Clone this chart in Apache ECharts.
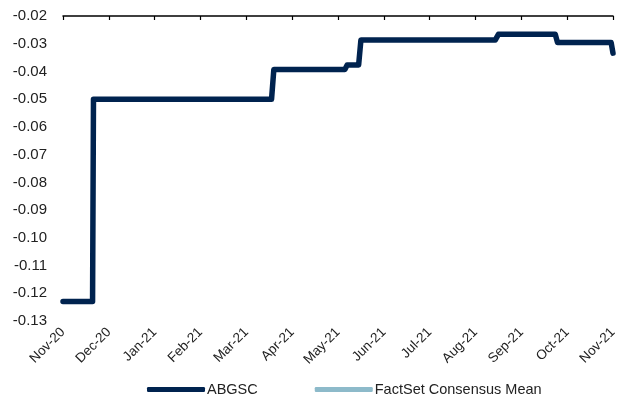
<!DOCTYPE html>
<html><head><meta charset="utf-8">
<script src="https://cdn.jsdelivr.net/npm/echarts@6/dist/echarts.min.js"></script>
<style>html,body{margin:0;padding:0;background:#fff}#c{width:621px;height:396px}</style>
</head><body><div id="c"></div>
<script>
// x positions in months since Nov-20 (0 = Nov-20, 12 = Nov-21)
const tickLabels = ['Nov-20','Dec-20','Jan-21','Feb-21','Mar-21','Apr-21','May-21','Jun-21','Jul-21','Aug-21','Sep-21','Oct-21','Nov-21'];
const abgscX = [0, 0.645, 0.665, 4.55, 4.6, 6.15, 6.2, 6.45, 6.5, 9.43, 9.5, 10.74, 10.79, 11.96, 12];
const abgscY = [-0.123, -0.123, -0.050, -0.050, -0.0393, -0.0393, -0.0377, -0.0377, -0.0287, -0.0287, -0.0266, -0.0266, -0.0296, -0.0296, -0.0334];
const consensusX = [];
const consensusY = [];
const yTicks = [-0.13, -0.02, 0.01]; // min, max, interval

const FONT = 'Liberation Sans';
const chart = echarts.init(document.getElementById('c'), null, {renderer: 'canvas'});
chart.setOption({
  animation: false,
  textStyle: {fontFamily: FONT},
  grid: {left: 63, right: 8, top: 16, bottom: 75, containLabel: false},
  xAxis: [{
    type: 'value', min: 0, max: 12, interval: 1, position: 'bottom',
    axisLine: {show: false}, axisTick: {show: false}, splitLine: {show: false},
    axisLabel: {rotate: 45, margin: 9, fontSize: 13.5, color: '#222', fontFamily: FONT,
      formatter: v => tickLabels[Math.round(v)] || ''}
  }, {
    type: 'value', min: 0, max: 12, interval: 1, position: 'top',
    axisLine: {show: true, lineStyle: {color: '#000', width: 1.5}},
    axisTick: {show: true, inside: true, length: 4, lineStyle: {color: '#000', width: 1.2}},
    axisLabel: {show: false}, splitLine: {show: false}
  }],
  yAxis: {
    type: 'value', min: yTicks[0], max: yTicks[1], interval: yTicks[2],
    axisLine: {show: false}, axisTick: {show: false}, splitLine: {show: false},
    axisLabel: {margin: 16, fontSize: 15, color: '#222', fontFamily: FONT,
      formatter: v => v.toFixed(2)}
  },
  legend: {
    left: 142, top: 377, itemWidth: 58, itemHeight: 5, itemGap: 57,
    icon: 'roundRect',
    textStyle: {fontSize: 14.5, color: '#222', fontFamily: FONT, padding: [0, 0, 0, -3]},
    data: ['ABGSC', 'FactSet Consensus Mean']
  },
  series: [{
    name: 'ABGSC', type: 'line', showSymbol: false, symbol: 'none',
    color: '#00234f',
    lineStyle: {width: 5.5, color: '#00234f', cap: 'round', join: 'round'},
    data: abgscX.map((x, i) => [x, abgscY[i]])
  }, {
    name: 'FactSet Consensus Mean', type: 'line', showSymbol: false, symbol: 'none',
    color: '#8dbaca',
    lineStyle: {width: 5, color: '#8dbaca'},
    data: consensusX.map((x, i) => [x, consensusY[i]])
  }]
});
</script></body></html>
